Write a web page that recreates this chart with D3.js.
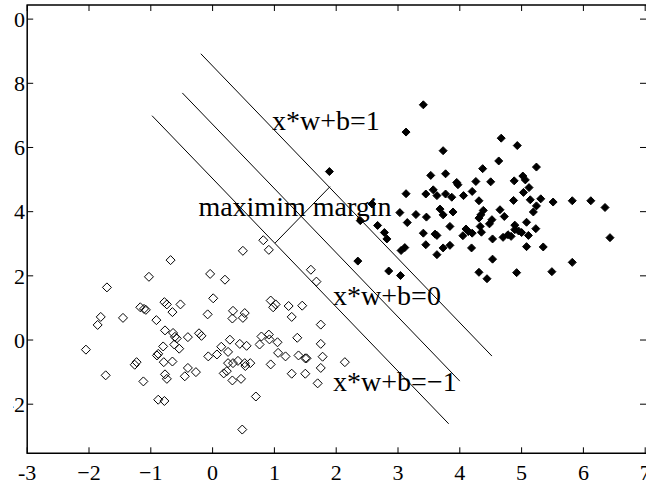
<!DOCTYPE html>
<html>
<head>
<meta charset="utf-8">
<script src="https://cdn.jsdelivr.net/npm/d3@7"></script>
<style>
  body { margin: 0; background: #fff; }
  svg { display: block; }
</style>
</head>
<body>
<script>
// class -1 (open diamonds)
const negX = [-2.05,-1.86,-1.81,-1.71,-1.73,-1.45,-1.26,-1.23,-1.17,-1.11,-1.08,-1.03,-1.12,-0.91,-0.90,-0.88,-0.80,-0.88,-0.78,-0.79,
  -0.77,-0.74,-0.77,-0.78,-0.74,-0.68,-0.65,-0.65,-0.64,-0.61,-0.58,-0.62,-0.54,-0.52,-0.45,-0.40,-0.40,-0.27,-0.22,-0.18,
  -0.08,-0.07,-0.04,0.01,0.07,0.14,0.20,0.18,0.23,0.25,0.25,0.28,0.32,0.33,0.32,0.41,0.44,0.46,0.49,0.49,
  0.52,0.52,0.55,0.61,0.48,0.70,0.76,0.79,0.82,0.91,0.91,0.92,0.94,0.94,0.98,1.02,1.05,1.06,1.18,1.23,
  1.28,1.28,1.37,1.39,1.45,1.50,1.52,1.50,1.59,1.68,1.70,1.75,1.75,1.78,1.75,2.14,0.33,0.53];
const negY = [-0.30,0.47,0.72,1.64,-1.10,0.69,-0.77,-0.69,1.02,0.97,0.94,1.97,-1.29,0.62,-0.48,-0.43,-0.20,-1.86,-1.90,-0.69,
  -1.07,-1.21,0.30,1.18,1.11,2.49,0.87,-0.67,0.22,0.10,0.05,-0.14,-0.27,1.11,-1.13,0.09,-0.87,-1.00,0.21,0.13,
  0.80,-0.51,2.06,1.30,-0.45,-0.21,1.88,-1.04,-0.97,-0.72,-0.37,0.01,-1.26,0.91,0.67,-0.65,-0.12,-1.21,2.78,0.69,
  0.84,-0.72,-0.18,-0.72,-2.79,-1.76,-0.14,0.11,3.11,2.81,0.17,0.02,-0.76,1.23,1.02,1.11,-0.07,-0.40,-0.51,1.06,
  0.72,-1.05,0.07,-0.48,1.07,-0.57,-0.57,-1.05,2.19,1.82,-1.35,0.48,-0.12,-0.52,-0.87,-0.69,-0.72,-0.81];

// class +1 (filled diamonds)
const posX = [3.41,3.13,1.89,3.73,4.67,4.93,4.63,4.37,5.24,3.53,3.77,3.95,3.97,4.26,4.20,4.50,4.88,5.02,5.06,5.12,
  5.03,3.13,3.45,3.57,3.63,3.77,3.87,4.06,4.31,4.87,5.14,5.31,5.51,5.82,6.12,6.35,5.24,5.19,3.03,3.29,
  3.46,3.68,3.73,3.89,4.38,4.34,4.31,4.65,4.72,4.52,4.48,3.15,2.39,2.67,2.78,2.82,3.84,3.41,3.60,3.63,
  4.10,4.14,4.20,4.05,4.35,4.53,4.70,4.83,4.89,4.95,5.08,5.00,5.11,5.23,6.43,3.05,3.11,3.45,3.73,3.84,
  3.63,4.19,5.08,5.35,4.53,2.35,2.85,3.04,4.31,4.44,4.92,5.49,5.82,2.58,4.33,4.78,4.89];
const posY = [7.33,6.48,5.25,5.90,6.29,6.06,5.58,5.34,5.39,5.13,5.18,4.91,4.84,4.94,4.63,4.93,4.96,5.11,4.99,4.75,
  4.60,4.56,4.55,4.68,4.50,4.55,4.45,4.50,4.34,4.35,4.37,4.40,4.30,4.34,4.34,4.13,4.18,3.99,3.97,3.91,
  3.83,4.08,3.90,3.99,4.04,3.90,3.80,4.06,3.85,3.75,3.62,3.66,3.72,3.57,3.35,3.15,3.54,3.33,3.30,3.26,
  3.46,3.38,3.33,3.25,3.36,3.15,3.20,3.23,3.58,3.40,3.67,3.35,3.26,3.47,3.19,2.79,2.88,2.97,2.87,2.95,
  2.66,2.87,2.91,2.90,2.52,2.46,2.15,2.01,2.11,1.91,2.10,2.13,2.42,4.24,3.54,3.28,3.44];

// hyperplanes y = -2x + c, for x*w+b = 1, 0, -1
const planeC = [8.54, 6.72, 5.03];
const planeX0 = [-0.19, -0.49, -0.98];
const planeX1 = [4.52, 4.00, 3.82];
const marginX = [1.01, 1.90];
const marginY = [3.02, 4.78];

const notes = ["x*w+b=1", "maximim margin", "x*w+b=0", "x*w+b=\u22121"];
const noteX = [0.96, -0.23, 1.95, 1.95];
const noteY = [6.55, 3.87, 1.10, -1.60];

const xTicks = [-3,-2,-1,0,1,2,3,4,5,6,7];
const yTicks = [-2,0,2,4,6,8,10];

const W = 646, H = 484;
const serif = "'Liberation Serif', 'Times New Roman', Times, 'DejaVu Serif', serif";
const x = d3.scaleLinear().domain([-3, 7]).range([27.2, 645.2]);
const y = d3.scaleLinear().domain([-3.53, 10.44]).range([453.3, 5]);
const x0 = x(-3), x1 = W + 1, yb = y(-3.53), yt = y(10.44);

const svg = d3.select("body").append("svg")
    .attr("width", W).attr("height", H)
    .attr("font-family", serif);

svg.append("defs").append("clipPath").attr("id", "lab")
  .append("rect").attr("x", 13).attr("y", 0).attr("width", W).attr("height", H);

// box (right edge falls just outside the picture) + inward ticks
const ax = svg.append("g").attr("stroke", "#000").attr("fill", "none");
ax.append("path")
  .attr("stroke-width", 1.5)
  .attr("d", `M${x1},${yt}H${x0}V${yb}H${x1}`);
xTicks.forEach(t => {
  ax.append("line").attr("x1", x(t)).attr("x2", x(t)).attr("y1", yb).attr("y2", yb - 6);
  ax.append("line").attr("x1", x(t)).attr("x2", x(t)).attr("y1", yt).attr("y2", yt + 6);
});
yTicks.forEach(t => {
  ax.append("line").attr("x1", x0).attr("x2", x0 + 6).attr("y1", y(t)).attr("y2", y(t));
  ax.append("line").attr("x1", x1).attr("x2", x1 - 7).attr("y1", y(t)).attr("y2", y(t));
});

const fmt = t => t < 0 ? (t === -3 ? "-3" : "\u2212" + (-t)) : String(t);

svg.append("g").attr("font-size", 22)
  .selectAll("text").data(xTicks).join("text")
  .attr("x", d => x(d)).attr("y", 480)
  .attr("text-anchor", "middle")
  .text(fmt);

svg.append("g").attr("font-size", 22).attr("clip-path", "url(#lab)")
  .selectAll("text").data(yTicks).join("text")
  .attr("x", 25).attr("y", d => y(d)).attr("dy", "0.35em")
  .attr("text-anchor", "end")
  .text(d => d < 0 ? "-" + (-d) : String(d));

// hyperplanes
svg.append("g").attr("stroke", "#000").attr("stroke-width", 1)
  .selectAll("line").data(planeC).join("line")
  .attr("x1", (c, i) => x(planeX0[i])).attr("y1", (c, i) => y(-2 * planeX0[i] + c))
  .attr("x2", (c, i) => x(planeX1[i])).attr("y2", (c, i) => y(-2 * planeX1[i] + c));

svg.append("line").attr("stroke", "#000")
  .attr("x1", x(marginX[0])).attr("y1", y(marginY[0]))
  .attr("x2", x(marginX[1])).attr("y2", y(marginY[1]));

const diamond = r => `M0,${-r}L${r},0L0,${r}L${-r},0Z`;

svg.append("g").attr("fill", "none").attr("stroke", "#000").attr("stroke-width", 1)
  .selectAll("path").data(negX).join("path")
  .attr("transform", (d, i) => `translate(${x(d)},${y(negY[i])})`)
  .attr("d", diamond(4.5));

svg.append("g").attr("fill", "#000").attr("stroke", "#000").attr("stroke-width", 1)
  .selectAll("path").data(posX).join("path")
  .attr("transform", (d, i) => `translate(${x(d)},${y(posY[i])})`)
  .attr("d", diamond(4));

svg.append("g").attr("font-size", 28)
  .selectAll("text").data(notes).join("text")
  .attr("x", (d, i) => x(noteX[i])).attr("y", (d, i) => y(noteY[i]))
  .text(d => d);
</script>
</body>
</html>
